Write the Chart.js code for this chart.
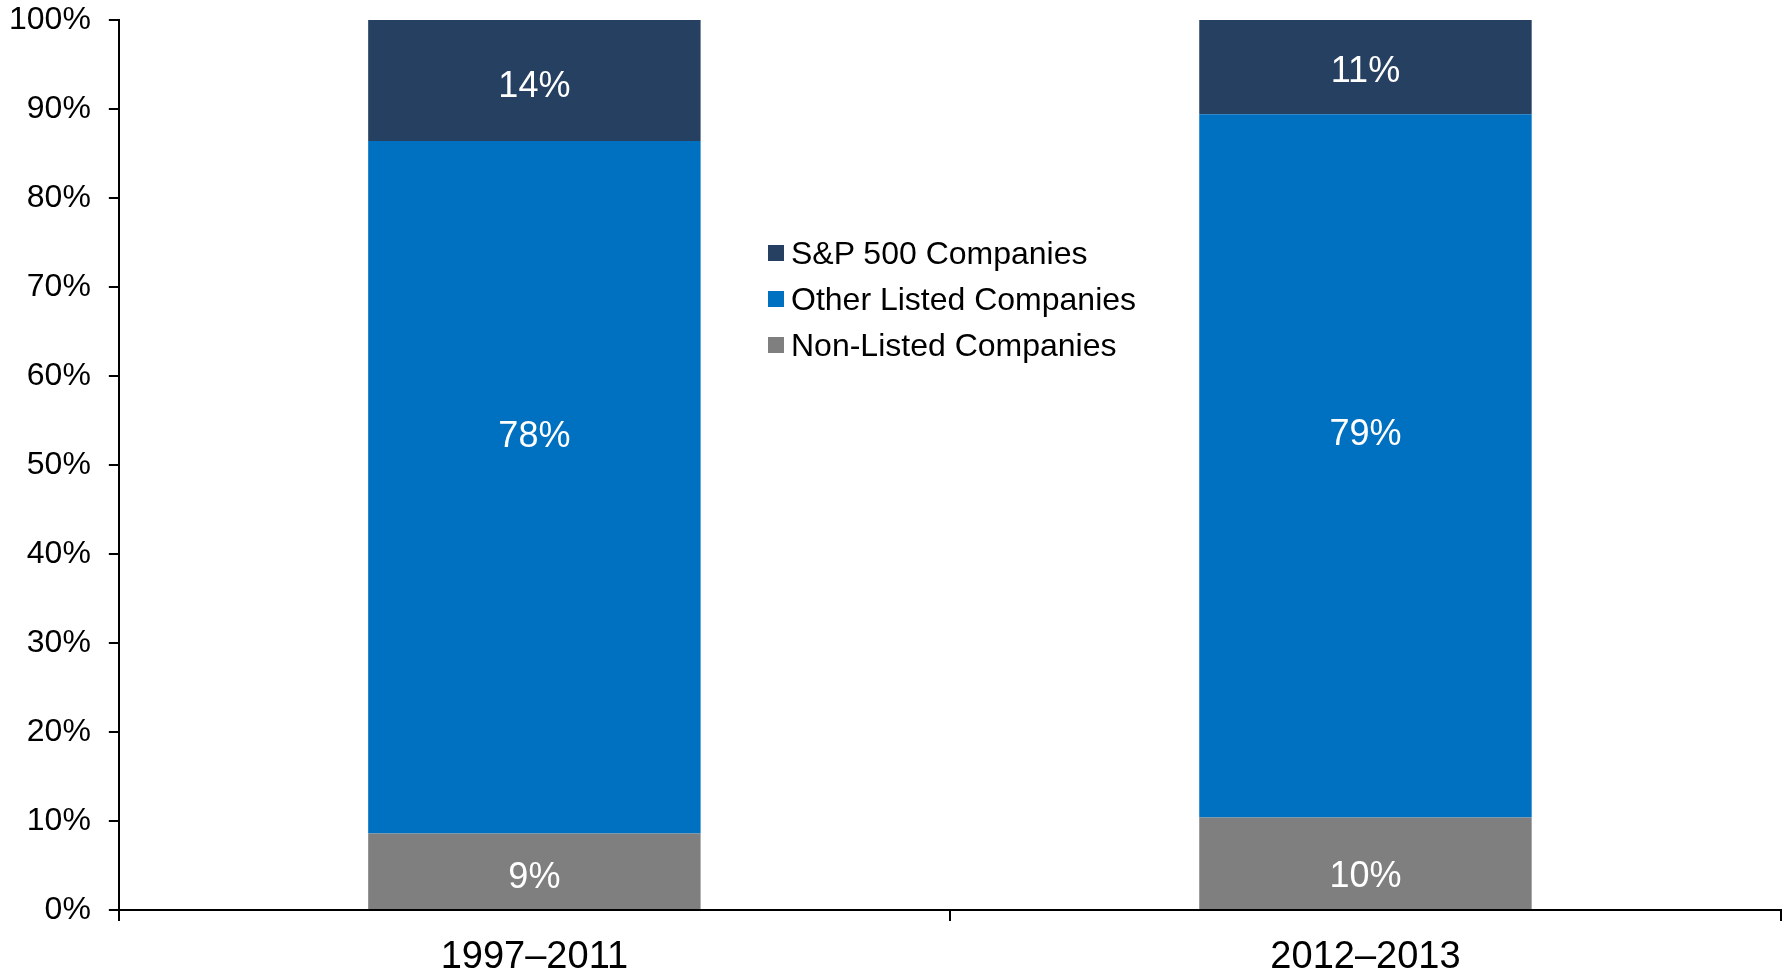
<!DOCTYPE html>
<html>
<head>
<meta charset="utf-8">
<script src="https://cdn.jsdelivr.net/npm/chart.js@4/dist/chart.umd.min.js"></script>
<style>
  html, body { margin: 0; padding: 0; background: #fff; }
  #wrap { position: relative; width: 1790px; height: 971px; }
  #legend { position: absolute; left: 768px; top: 230px; font: 32px "Liberation Sans", Arial, sans-serif; color: #000; }
  #legend div { display: flex; align-items: center; height: 46px; }
  #legend span.sw { width: 16px; height: 16px; margin-right: 7px; display: inline-block; }
</style>
</head>
<body>
<div id="wrap">
  <canvas id="c" width="1790" height="971"></canvas>
  <div id="legend"></div>
</div>
<script>
const PERIODS = ['1997\u20132011', '2012\u20132013'];
const NON_LISTED = [8.6, 10.4];
const OTHER_LISTED = [77.8, 79.0];
const SP500 = [13.6, 10.6];
const Y_TICKS = [0, 10, 20, 30, 40, 50, 60, 70, 80, 90, 100];

const FONT = '"Liberation Sans", Arial, sans-serif';

// segment labels, white, inside each stacked piece
// labelPos: where the label sits down the segment (0 = top, 1 = base)
const segLabels = {
  id: 'segLabels',
  afterDatasetsDraw(chart) {
    const ctx = chart.ctx;
    ctx.save();
    ctx.fillStyle = '#fff';
    ctx.font = '36px ' + FONT;
    ctx.textAlign = 'center';
    ctx.textBaseline = 'middle';
    chart.data.datasets.forEach((ds, i) => {
      const meta = chart.getDatasetMeta(i);
      meta.data.forEach((bar, j) => {
        const frac = ds.labelPos ? ds.labelPos[j] : 0.5;
        const y = bar.y + (bar.base - bar.y) * frac + 3;
        ctx.fillText(Math.round(ds.data[j]) + '%', bar.x, y);
      });
    });
    ctx.restore();
  }
};

const datasets = [
  { label: 'Non-Listed Companies', data: NON_LISTED, backgroundColor: '#7f7f7f', labelPos: [0.55, 0.62] },
  { label: 'Other Listed Companies', data: OTHER_LISTED, backgroundColor: '#0070c0', labelPos: [0.423, 0.452] },
  { label: 'S&P 500 Companies', data: SP500, backgroundColor: '#264061', labelPos: [0.53, 0.52] },
];

const chart = new Chart(document.getElementById('c'), {
  type: 'bar',
  data: {
    labels: PERIODS,
    datasets: datasets.map((d) => ({
      ...d,
      borderWidth: 0,
      barPercentage: 0.4,
      categoryPercentage: 1.0,
    })),
  },
  options: {
    responsive: false, animation: false,
    layout: { padding: { top: 20, right: 9, left: -9, bottom: -24 } },
    plugins: { legend: { display: false }, tooltip: { enabled: false } },
    scales: {
      x: {
        stacked: true,
        border: { display: true, color: '#000', width: 2 },
        grid: { display: true, drawOnChartArea: false, drawTicks: true, tickLength: 11, color: '#000', lineWidth: 2, offset: true },
        ticks: { color: '#000', font: { family: FONT, size: 38, lineHeight: 1.0 }, padding: 18 },
      },
      y: {
        stacked: true,
        min: 0, max: 100,
        afterBuildTicks: (axis) => { axis.ticks = Y_TICKS.map((v) => ({ value: v })); },
        // tick padding only pushes labels away from the axis, not the plot top
        afterFit: (axis) => { axis.paddingTop = 0; axis.paddingBottom = 0; },
        border: { display: true, color: '#000', width: 2 },
        grid: { display: true, drawOnChartArea: false, drawTicks: true, tickLength: 10, color: '#000', lineWidth: 2 },
        ticks: { color: '#000', font: { family: FONT, size: 32 }, padding: 18, callback: (v) => v + '%' },
      },
    },
  },
  plugins: [segLabels],
});

// legend, top series first
const legend = document.getElementById('legend');
datasets.slice().reverse().forEach((d) => {
  const row = document.createElement('div');
  const sw = document.createElement('span');
  sw.className = 'sw';
  sw.style.background = d.backgroundColor;
  row.appendChild(sw);
  row.appendChild(document.createTextNode(d.label));
  legend.appendChild(row);
});
</script>
</body>
</html>
